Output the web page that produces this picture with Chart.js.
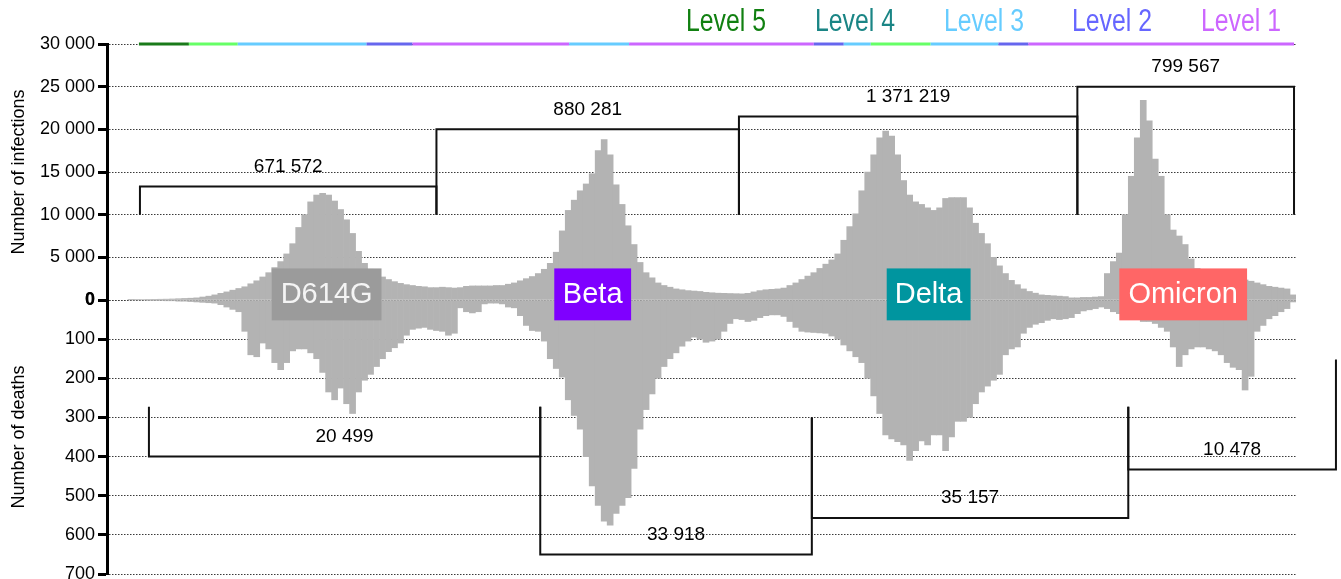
<!DOCTYPE html>
<html>
<head>
<meta charset="utf-8">
<script src="https://cdn.jsdelivr.net/npm/chart.js@4.4.0/dist/chart.umd.min.js"></script>
<style>
  html, body { margin: 0; padding: 0; background: #fff; }
</style>
</head>
<body>
<canvas id="chart" width="1341" height="579"></canvas>
<script>
// one bar = one sample (~4 days)
const infections = [
  30, 50, 60, 70, 80, 90, 100, 120, 150, 180,
  210, 250, 350, 450, 600, 780, 950, 1150, 1350, 1550,
  1900, 2250, 2700, 3200, 3800, 4500, 5400, 6600, 8500, 10000,
  11500, 12300, 12500, 12300, 11600, 10600, 9400, 7800, 5700, 4300,
  3600, 3100, 2700, 2400, 2150, 1950, 1800, 1700, 1600, 1550,
  1450, 1450, 1500, 1450, 1400, 1450, 1600, 1650, 1650, 1650,
  1650, 1700, 1700, 1850, 2000, 2250, 2500, 2750, 3100, 3600,
  4300, 5600, 8100, 10500, 11700, 12800, 13600, 14800, 17500, 18800,
  17000, 13500, 11200, 8700, 6500, 4400, 3200, 2600, 2000, 1700,
  1500, 1300, 1200, 1100, 1050, 1000, 900, 850, 800, 780,
  760, 740, 720, 780, 950, 1100, 1200, 1250, 1300, 1400,
  1700, 2000, 2400, 2800, 3200, 3700, 4200, 4700, 5400, 7000,
  8600, 10100, 12800, 15000, 17000, 19000, 19800, 19200, 17000, 14000,
  12300, 11500, 11200, 10800, 10500, 10800, 11900, 12000, 12000, 12000,
  10800, 9000, 7800, 6600, 5000, 4000, 3100, 2300, 1800, 1300,
  1000, 800, 600, 550, 500, 450, 400, 250, 250, 300,
  300, 350, 400, 3100, 4500, 5500, 10000, 14500, 19000, 23400,
  21000, 16500, 14500, 10000, 8200, 7500, 6500, 4800, 3700, 3400,
  3100, 2900, 2700, 2600, 2500, 2400, 2350, 2200, 2000, 1800,
  1600, 1500, 1400, 1300, 600
];
const deaths = [
  0, 0, 0, 1, 1, 1, 2, 2, 3, 3,
  4, 5, 6, 7, 8, 12, 18, 24, 30, 80,
  140, 145, 110, 125, 160, 178, 160, 130, 125, 125,
  135, 150, 185, 235, 255, 225, 265, 290, 235, 205,
  190, 170, 150, 132, 122, 110, 90, 75, 72, 70,
  75, 78, 80, 90, 85, 20, 30, 33, 30, 10,
  8, 8, 10, 18, 20, 40, 65, 78, 80, 105,
  150, 175, 197, 255, 295, 330, 400, 475, 525, 565,
  575, 545, 525, 505, 430, 330, 280, 240, 200, 170,
  150, 135, 118, 105, 95, 100, 108, 105, 100, 80,
  60, 48, 50, 55, 52, 45, 40, 38, 38, 42,
  55, 70, 80, 82, 83, 84, 85, 92, 100, 115,
  130, 145, 160, 200, 245, 290, 345, 355, 362, 370,
  410, 385, 360, 370, 345, 345, 385, 350, 310, 310,
  300, 265, 235, 220, 205, 190, 140, 125, 120, 85,
  70, 62, 58, 52, 48, 50, 48, 45, 35, 28,
  25, 22, 18, 22, 30, 35, 40, 45, 50, 55,
  55, 60, 70, 80, 120, 170, 140, 125, 120, 120,
  125, 130, 140, 160, 172, 178, 230, 195, 80, 65,
  48, 40, 30, 22, 5
];

const infTicks = [0, 5000, 10000, 15000, 20000, 25000, 30000];
const deathTicks = [0, 100, 200, 300, 400, 500, 600, 700];

// lockdown levels along the top edge (bar units)
const levelFrom = [1.33, 9.67, 17.83, 39.33, 47, 73.17, 83.17, 114, 119, 123.5, 133.5, 144.83, 149.83];
const levelTo = [9.67, 17.83, 39.33, 47, 73.17, 83.17, 114, 119, 123.5, 133.5, 144.83, 149.83, 194.17];
const levelOf = [5, 4, 3, 2, 1, 3, 1, 2, 3, 4, 3, 2, 1];
const levelNames = ['Level 5', 'Level 4', 'Level 3', 'Level 2', 'Level 1'];

// wave totals
const caseFrom = [1.5, 51, 101.5, 158];
const caseTo = [51, 101.5, 158, 194.17];
const caseLevel = [13300, 20000, 21500, 25000];
const caseTotals = ['671 572', '880 281', '1 371 219', '799 567'];
const deathFrom = [3, 68.33, 113.67, 166.5];
const deathTo = [68.33, 113.67, 166.5, 201.17];
const deathLevel = [400, 650, 557, 433];
const deathFootL = [273, 273, 300, 273];
const deathFootR = [273, 300, 273, 152];
const deathTotals = ['20 499', '33 918', '35 157', '10 478'];

const variants = ['D614G', 'Beta', 'Delta', 'Omicron'];
const variantFrom = [23.5, 70.67, 126.17, 165];
const variantTo = [41.83, 83.5, 140.17, 186.33];

const FONT = "'Liberation Sans', Arial, Helvetica, sans-serif";
const LINE_COLORS = { 5: '#1a7a1a', 4: '#66ff66', 3: '#66ccff', 2: '#6666ee', 1: '#cc66ff' };
const TEXT_COLORS = ['#118011', '#1a8585', '#66ccff', '#6666ff', '#cc66ff'];
const VARIANT_COLORS = ['#9b9b9b', '#7f00ff', '#00959f', '#ff6666'];
const BAR = '#b3b3b3';

Chart.defaults.font.family = FONT;
Chart.defaults.color = '#000';

const fmt = (v) => String(v).replace(/\B(?=(\d{3})+(?!\d))/g, ' ');
const asBars = (values) => values.map((v, i) => ({ x: i, y: v }));

function yAxis(ticks, title, extra) {
  return Object.assign({
    type: 'linear',
    position: 'left',
    stack: 'panels',
    min: ticks[0],
    max: ticks[ticks.length - 1],
    afterBuildTicks: (s) => { s.ticks = ticks.map((v) => ({ value: v })); },
    // fixed gutter, and let the end labels hang over the edges like the original
    afterFit: (s) => { s.width = 107; s.paddingTop = 0; s.paddingBottom = 0; },
    ticks: {
      font: (c) => ({ size: 18, weight: c.tick && c.tick.value === 0 ? 'bold' : 'normal' }),
      color: '#000', padding: 3, autoSkip: false, callback: (v) => fmt(v),
    },
    grid: { color: '#3a3a3a', lineWidth: 1, tickLength: 9, tickWidth: 3, tickColor: '#000' },
    border: { color: '#000', width: 3, dash: [1.5, 1.5] },
    title: { display: true, text: title, font: { size: 18 }, color: '#000', padding: { top: 8, bottom: 0 } },
  }, extra);
}

function bracket(ctx, x1, x2, top, footL, footR) {
  ctx.beginPath();
  ctx.moveTo(x1, footL);
  ctx.lineTo(x1, top);
  ctx.lineTo(x2, top);
  ctx.lineTo(x2, footR);
  ctx.stroke();
}

const overlay = {
  id: 'overlay',
  afterDatasetsDraw(chart) {
    const { ctx } = chart;
    const { x, yI, yD } = chart.scales;
    ctx.save();

    // variant boxes
    ctx.textAlign = 'center';
    ctx.textBaseline = 'middle';
    ctx.font = `29px ${FONT}`;
    variants.forEach((name, i) => {
      const x1 = x.getPixelForValue(variantFrom[i]);
      const x2 = x.getPixelForValue(variantTo[i]);
      const t = yI.getPixelForValue(3700);
      const b = yD.getPixelForValue(52);
      ctx.fillStyle = VARIANT_COLORS[i];
      ctx.fillRect(x1, t, x2 - x1, b - t);
      ctx.fillStyle = i === 0 ? '#f4f4f4' : '#fff';
      ctx.fillText(name, (x1 + x2) / 2, (t + b) / 2 + 1);
    });

    // wave brackets
    ctx.strokeStyle = '#111';
    ctx.lineWidth = 2;
    ctx.fillStyle = '#000';
    ctx.font = `19px ${FONT}`;
    caseTotals.forEach((label, i) => {
      const x1 = x.getPixelForValue(caseFrom[i]);
      const x2 = x.getPixelForValue(caseTo[i]);
      const top = yI.getPixelForValue(caseLevel[i]);
      const foot = yI.getPixelForValue(10000);
      bracket(ctx, x1, x2, top, foot, foot);
      ctx.fillText(label, (x1 + x2) / 2, top - 20);
    });
    deathTotals.forEach((label, i) => {
      const x1 = x.getPixelForValue(deathFrom[i]);
      const x2 = x.getPixelForValue(deathTo[i]);
      const top = yD.getPixelForValue(deathLevel[i]);
      bracket(ctx, x1, x2, top, yD.getPixelForValue(deathFootL[i]), yD.getPixelForValue(deathFootR[i]));
      ctx.fillText(label, (x1 + x2) / 2, top - 20);
    });

    // lockdown level strip
    ctx.lineWidth = 3;
    levelFrom.forEach((from, i) => {
      ctx.strokeStyle = LINE_COLORS[levelOf[i]];
      ctx.beginPath();
      ctx.moveTo(x.getPixelForValue(from), yI.top);
      ctx.lineTo(x.getPixelForValue(levelTo[i]), yI.top);
      ctx.stroke();
    });

    // level legend (narrow lettering)
    const legendX = [726, 855, 984, 1112, 1241];
    ctx.font = `31px ${FONT}`;
    levelNames.forEach((name, i) => {
      ctx.save();
      ctx.translate(legendX[i], 22);
      ctx.scale(0.8, 1);
      ctx.fillStyle = TEXT_COLORS[i];
      ctx.fillText(name, 0, 0);
      ctx.restore();
    });

    ctx.restore();
  },
};

new Chart(document.getElementById('chart').getContext('2d'), {
  type: 'bar',
  data: {
    datasets: [
      { label: 'Infections', data: asBars(infections), yAxisID: 'yI', backgroundColor: BAR,
        barPercentage: 1, categoryPercentage: 1, grouped: false, borderWidth: 0 },
      { label: 'Deaths', data: asBars(deaths), yAxisID: 'yD', backgroundColor: BAR,
        barPercentage: 1, categoryPercentage: 1, grouped: false, borderWidth: 0 },
    ],
  },
  options: {
    responsive: false,
    animation: false,
    layout: { padding: { top: 44, right: 45, bottom: 5, left: 0 } },
    plugins: { legend: { display: false }, tooltip: { enabled: false } },
    scales: {
      x: { type: 'linear', min: -4, max: 194.5, offset: false, display: false },
      yI: yAxis(infTicks, 'Number of infections', { stackWeight: 256, weight: 1 }),
      yD: yAxis(deathTicks, 'Number of deaths', { stackWeight: 274, weight: 0, reverse: true }),
    },
  },
  plugins: [overlay],
});
</script>
</body>
</html>
